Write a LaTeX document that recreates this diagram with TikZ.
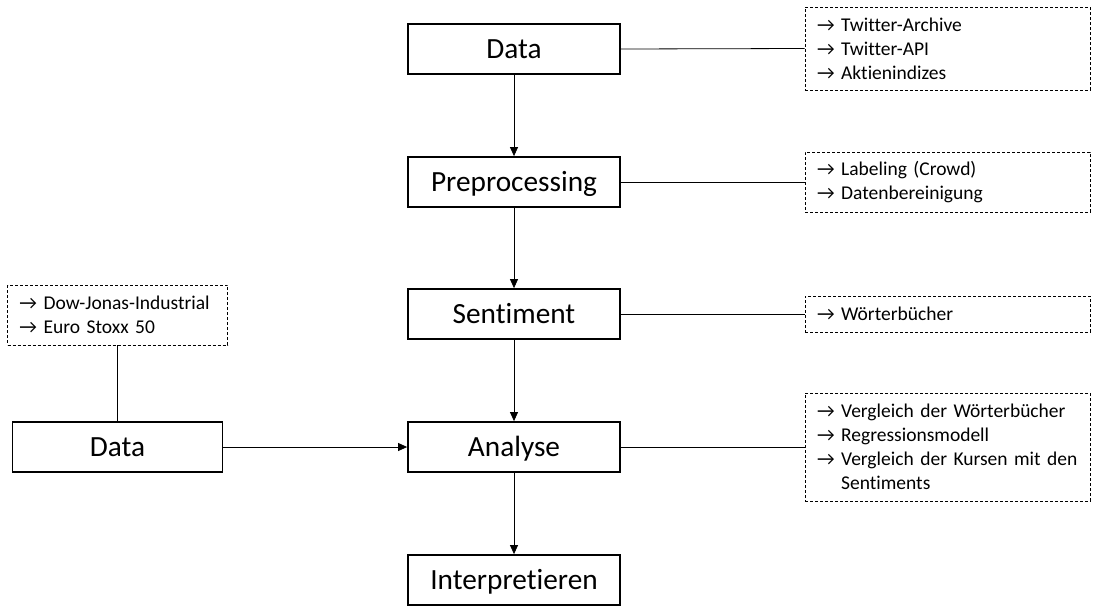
\documentclass[tikz,border=0pt]{standalone}
\usepackage{fontspec}
\setmainfont[Ligatures=NoCommon]{Carlito}
\usetikzlibrary{arrows.meta}

\begin{document}
\begin{tikzpicture}[x=1pt,y=-1pt,
  stepbox/.style={draw, line width=1.8pt, minimum width=212pt, minimum height=50pt,
    inner sep=0pt, text height=19pt, text depth=0pt, font=\fontsize{29.3}{34}\selectfont},
  notebox/.style={draw, dashed, dash pattern=on 3pt off 2pt, line width=0.8pt,
    text width=261pt, inner xsep=12pt, inner ysep=0pt, align=left,
    font=\fontsize{19.5}{24}\selectfont},
  link/.style={line width=0.8pt},
  flow/.style={line width=0.8pt, -{Triangle[length=9pt, width=8pt]}}]
\useasboundingbox (0,0) rectangle (1097,611);
% main column
\node[stepbox] (d) at (514,49) {Data};
\node[stepbox] (pre) at (514,182) {Preprocessing};
\node[stepbox] (sent) at (514,314) {Sentiment};
\node[stepbox] (ana) at (514,447) {Analyse};
\node[stepbox] (inter) at (514,580) {Interpretieren};
\node[stepbox, minimum width=210pt] (d2) at (117.5,447) {Data};
% notes
\node[notebox, minimum height=83pt] (dn) at (947.5,48.5) {→ Twitter-Archive\\→ Twitter-API\\→ Aktienindizes};
\node[notebox, minimum height=60pt] (pn) at (947.5,182) {→ Labeling (Crowd)\\→ Datenbereinigung};
\node[notebox, minimum height=36pt] (sn) at (947.5,314) {→ Wörterbücher};
\node[notebox, minimum height=108pt] (an) at (947.5,447) {→ Vergleich der Wörterbücher\\→ Regressionsmodell\\→ Vergleich der Kursen mit den\\\hphantom{→}\ Sentiments};
\node[notebox, text width=196pt, minimum height=60pt] (d2n) at (117.5,315) {→ Dow-Jonas-Industrial\\→ Euro Stoxx 50};
\draw[flow] (d.south) -- (pre.north);
\draw[flow] (pre.south) -- (sent.north);
\draw[flow] (sent.south) -- (ana.north);
\draw[flow] (ana.south) -- (inter.north);
\draw[flow] (d2.east) -- (ana.west);
\draw[link] (d.east) -- (dn.west);
\draw[link] (pre.east) -- (pn.west);
\draw[link] (sent.east) -- (sn.west);
\draw[link] (ana.east) -- (an.west);
\draw[link] (d2n.south) -- (d2.north);
\end{tikzpicture}
\end{document}
